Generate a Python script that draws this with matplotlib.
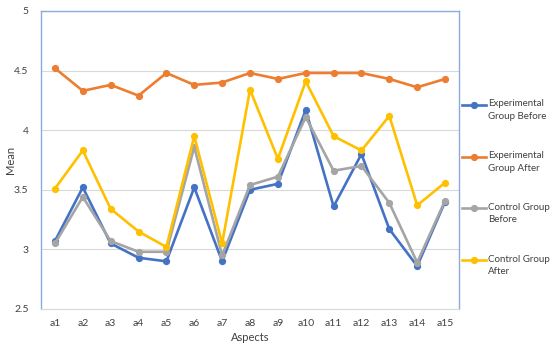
import matplotlib
matplotlib.use("Agg")
import matplotlib.pyplot as plt
from matplotlib.lines import Line2D

categories = ["a1", "a2", "a3", "a4", "a5", "a6", "a7", "a8", "a9", "a10",
              "a11", "a12", "a13", "a14", "a15"]
exp_before = [3.07, 3.52, 3.05, 2.93, 2.90, 3.52, 2.90, 3.50, 3.55, 4.17,
              3.36, 3.80, 3.17, 2.86, 3.40]
exp_after = [4.52, 4.33, 4.38, 4.29, 4.48, 4.38, 4.40, 4.48, 4.43, 4.48,
             4.48, 4.48, 4.43, 4.36, 4.43]
ctrl_before = [3.05, 3.44, 3.07, 2.98, 2.98, 3.86, 2.95, 3.54, 3.61, 4.11,
               3.66, 3.70, 3.39, 2.89, 3.41]
ctrl_after = [3.51, 3.83, 3.34, 3.15, 3.02, 3.95, 3.05, 4.34, 3.76, 4.41,
              3.95, 3.83, 4.12, 3.37, 3.56]
series_labels = ["Experimental\nGroup Before", "Experimental\nGroup After",
                 "Control Group\nBefore", "Control Group\nAfter"]
colors = ["#4472C4", "#ED7D31", "#A5A5A5", "#FFC000"]
y_ticks = [2.5, 3, 3.5, 4, 4.5, 5]

plt.rcParams['font.family'] = ['Lato', 'DejaVu Sans']

W, H = 550, 348
fig = plt.figure(figsize=(W/100, H/100), dpi=100)
ax = fig.add_axes([41/W, 1-309/H, (459-41)/W, (309-11)/H])

x = list(range(len(categories)))
for vals, c, lab in zip([exp_before, exp_after, ctrl_before, ctrl_after], colors, series_labels):
    ax.plot(x, vals, color=c, lw=1.9, marker='o', markersize=4.2, label=lab,
            solid_joinstyle='round')

ax.set_xlim(-0.5, len(categories) - 0.5)
ax.set_ylim(2.5, 5)
ax.set_yticks(y_ticks)
ax.set_yticklabels([f"{t:g}" for t in y_ticks])
ax.set_xticks(x)
ax.set_xticklabels(categories)
ax.tick_params(length=0, labelsize=7.5, colors="#404040")
ax.tick_params(axis='x', pad=7)
ax.tick_params(axis='y', pad=9)
ax.grid(axis='y', color="#D9D9D9", lw=0.8)
ax.set_axisbelow(True)
for s in ['left', 'top', 'right']:
    ax.spines[s].set_color("#8EA9DB")
    ax.spines[s].set_linewidth(1.0)
ax.spines['bottom'].set_color("#D9D9D9")
ax.spines['bottom'].set_linewidth(0.8)

ax.set_xlabel("Aspects", fontsize=8, color="#404040")
ax.xaxis.set_label_coords((250-41)/(459-41), -(332-309)/(309-11))
ax.set_ylabel("Mean", fontsize=8, color="#404040")
ax.yaxis.set_label_coords(-(41-16)/(459-41), (309-160)/(309-11))

# legend drawn manually (handle aligned with first text line, as in reference)
leg_y = [105, 157, 208, 260]
for yy, c, lab in zip(leg_y, colors, series_labels):
    fy = 1 - yy/H
    fig.add_artist(Line2D([462/W, 486/W], [fy, fy], color=c, lw=1.9))
    fig.add_artist(Line2D([474/W], [fy], color=c, marker='o', markersize=4.2))
    fig.text(488/W, 1 - (yy - 5.5)/H, lab, fontsize=7, color="#404040",
             ha='left', va='top', linespacing=1.55)

fig.savefig("out.png", dpi=100)
